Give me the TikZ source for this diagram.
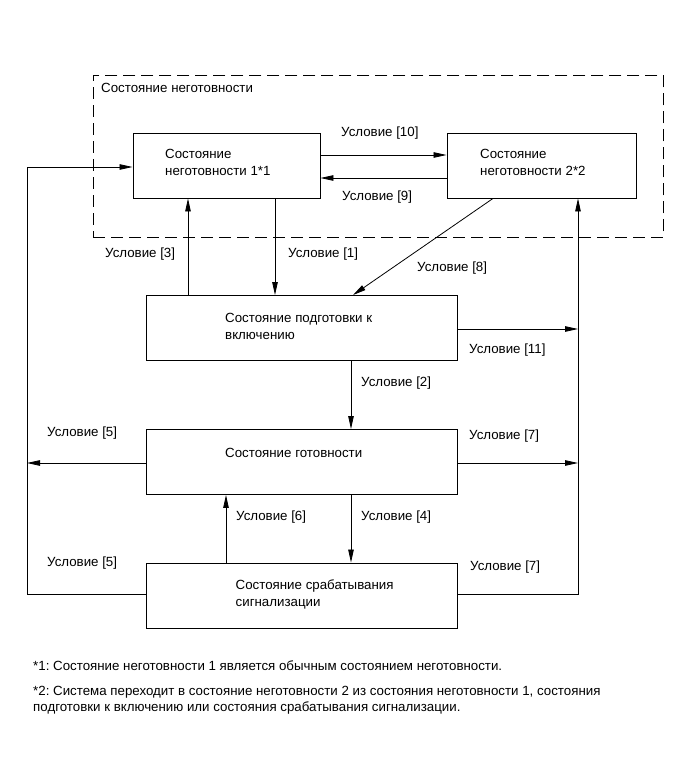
\documentclass[tikz,border=0pt]{standalone}
\usepackage{fontspec}
\setmainfont{Liberation Sans}
\usetikzlibrary{arrows.meta}
\frenchspacing
\begin{document}
\begin{tikzpicture}[x=1pt,y=-1pt,
  every node/.style={font=\fontsize{13.3}{16.5}\selectfont, inner sep=0pt},
  box/.style={draw, line width=0.9pt, minimum width=#1, minimum height=65pt},
  box/.default=311pt,
  txt/.style={anchor=west, align=left},
  ln/.style={line width=0.8pt},
  arr/.style={ln, -{Triangle[length=13pt,width=5.5pt]}},
  grp/.style={draw, line width=0.9pt, dash pattern=on 12pt off 6pt}]
\useasboundingbox (0,0) rectangle (690,759);
% group
\node[grp, minimum width=570pt, minimum height=162pt, anchor=north west] (grp) at (93,75) {};
\node[txt] (grpt) at (101,88) {Состояние неготовности};
% boxes
\node[box=187pt] (b1) at (226.5,165.5) {};
\node[box=189pt] (b2) at (541.5,165.5) {};
\node[box] (b3) at (302,328) {};
\node[box] (b4) at (302,462) {};
\node[box] (b5) at (302,595.5) {};
% box texts
\node[txt] (t1) at (165,162.5) {Состояние\\неготовности 1*1};
\node[txt] (t2) at (480,162.5) {Состояние\\неготовности 2*2};
\node[txt] (t3) at (225,326.5) {Состояние подготовки к\\включению};
\node[txt] (t4) at (225,453) {Состояние готовности};
\node[txt] (t5) at (235.5,594.5) {Состояние срабатывания\\сигнализации};
% corner coordinates
\coordinate (LL) at (27,594);
\coordinate (LT) at (27,167);
\coordinate (LM) at (27,463);
\coordinate (RR) at (578,594);
\coordinate (RM) at (578,463);
\coordinate (RU) at (578,329);
% connectors
\draw[arr] (b1.east |- 0,155) -- (b2.west |- 0,155);
\draw[arr] (b2.west |- 0,178) -- (b1.east |- 0,178);
\draw[arr] (b5.west |- LL) -- (LL) -- (LT) -- (b1.west |- LT);
\draw[arr] (b4.west |- LM) -- (LM);
\draw[arr] (b5.east |- RR) -- (RR) -- (RR |- b2.south);
\draw[arr] (b4.east |- RM) -- (RM);
\draw[arr] (b3.east |- RU) -- (RU);
\draw[arr] (188,0 |- b3.north) -- (188,0 |- b1.south);
\draw[arr] (275,0 |- b1.south) -- (275,0 |- b3.north);
\draw[arr] (493,0 |- b2.south) -- (353,0 |- b3.north);
\draw[arr] (351,0 |- b3.south) -- (351,0 |- b4.north);
\draw[arr] (351,0 |- b4.south) -- (351,0 |- b5.north);
\draw[arr] (226,0 |- b5.north) -- (226,0 |- b4.south);
% labels
\node[txt] (c10) at (341,133) {Условие [10]};
\node[txt] (c9) at (342,197) {Условие [9]};
\node[txt] (c3) at (105,254) {Условие [3]};
\node[txt] (c1) at (288,254) {Условие [1]};
\node[txt] (c8) at (417,268) {Условие [8]};
\node[txt] (c11) at (469,350) {Условие [11]};
\node[txt] (c2) at (361,383) {Условие [2]};
\node[txt] (c5a) at (47,433) {Условие [5]};
\node[txt] (c7a) at (469,436) {Условие [7]};
\node[txt] (c6) at (236,517) {Условие [6]};
\node[txt] (c4) at (361,517) {Условие [4]};
\node[txt] (c5b) at (47,563) {Условие [5]};
\node[txt] (c7b) at (470,567) {Условие [7]};
% footnotes
\node[txt] (f1) at (33,666) {*1: Состояние неготовности 1 является обычным состоянием неготовности.};
\node[txt] (f2) at (33,700) {*2: Система переходит в состояние неготовности 2 из состояния неготовности 1, состояния\\подготовки к включению или состояния срабатывания сигнализации.};
\end{tikzpicture}
\end{document}
